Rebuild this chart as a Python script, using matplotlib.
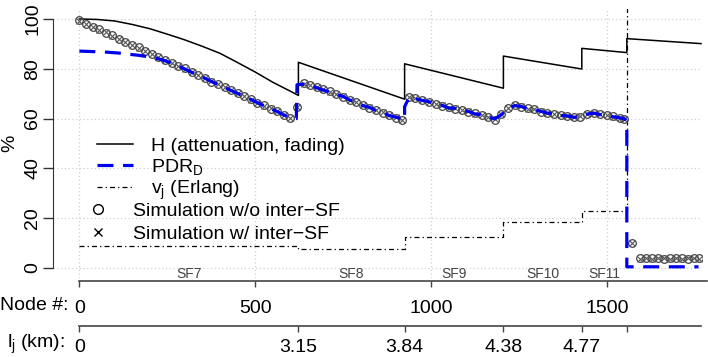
import matplotlib
matplotlib.use("Agg")
import matplotlib.pyplot as plt
from matplotlib.lines import Line2D
from matplotlib.transforms import blended_transform_factory

plt.rcParams["font.family"] = ["Liberation Sans", "DejaVu Sans"]
plt.rcParams["mathtext.fontset"] = "custom"
plt.rcParams["mathtext.rm"] = "Liberation Sans"
plt.rcParams["mathtext.it"] = "Liberation Sans:italic"

# ---- data ----
sf_names = ["SF7", "SF8", "SF9", "SF10", "SF11"]
sf_edges = [0, 623, 925, 1206, 1429, 1557]
lj_labels = ["0", "3.15", "3.84", "4.38", "4.77", ""]
node_ticks = [0, 500, 1000, 1500]

h_nodes = [0, 50, 100, 150, 200, 250, 300, 350, 400, 450, 500, 550, 600, 623,
           623, 925, 925, 1206, 1206, 1429, 1429, 1557, 1557, 1768]
h_vals = [100, 99.8, 99.2, 97.8, 96.1, 93.9, 91.6, 89.0, 86.2, 82.5, 78.7, 74.6, 71.0, 69.3,
          82.6, 67.8, 82.0, 72.2, 85.1, 79.9, 88.2, 86.5, 92.1, 90.1]

erlang_nodes = [0, 623, 925, 1206, 1429, 1557]
erlang_vals = [8.8, 7.6, 12.3, 18.6, 23.0, 1000]

sim_nodes = [0, 19, 38, 56, 75, 94, 113, 131, 150, 169, 188, 206, 225, 244, 263, 281,
             300, 319, 338, 356, 375, 394, 413, 431, 450, 469, 488, 506, 525, 544, 563, 581,
             600, 619,
             638, 656, 675, 694, 713, 731, 750, 769, 788, 806, 825, 844, 863, 881, 900, 919,
             938, 956, 975, 994, 1013, 1031, 1050, 1069, 1088, 1106, 1125, 1144, 1163, 1181,
             1200, 1219,
             1238, 1256, 1275, 1294, 1313, 1331, 1350, 1369, 1388, 1406, 1425,
             1444, 1463, 1481, 1500, 1519, 1538, 1548,
             1571, 1594, 1611, 1628, 1645, 1662, 1679, 1696, 1713, 1730, 1747, 1761]
sim_no_inter = [99.4, 98.0, 96.9, 95.8, 94.5, 93.5, 92.0, 90.9, 89.6, 88.7, 87.2, 86.0, 84.6, 83.5,
                82.3, 81.2, 80.2, 78.7, 77.5, 76.3, 74.7, 73.8, 72.6, 71.4, 70.4, 68.9, 67.7, 66.2,
                65.3, 64.0, 63.0, 61.6, 60.3, 64.8,
                74.2, 73.5, 72.6, 71.8, 70.9, 69.9, 68.8, 67.6, 66.5, 65.4, 64.4, 63.4, 62.4, 61.4,
                60.4, 59.5,
                68.8, 68.2, 67.5, 66.6, 65.9, 65.2, 64.5, 64.0, 63.4, 62.8, 62.1, 61.4, 60.8, 59.6,
                62.0, 64.2,
                65.4, 64.8, 64.1, 63.8, 62.8, 62.4, 61.8, 61.4, 61.0, 60.7, 60.8,
                62.0, 62.1, 61.8, 61.4, 60.9, 60.2, 60.0,
                10.2, 3.9, 3.9, 3.9, 3.9, 3.8, 3.9, 3.9, 3.9, 3.8, 3.9, 3.9]
sim_inter = [99.3, 98.1, 96.8, 95.7, 94.6, 93.3, 92.1, 90.8, 89.7, 88.5, 87.3, 85.9, 84.7, 83.4,
             82.4, 81.1, 80.0, 78.8, 77.4, 76.2, 74.9, 73.7, 72.5, 71.5, 70.2, 69.0, 67.6, 66.4,
             65.2, 64.1, 62.9, 61.5, 60.2, 64.6,
             74.0, 73.6, 72.5, 71.9, 70.8, 69.8, 68.9, 67.5, 66.6, 65.3, 64.5, 63.3, 62.5, 61.3,
             60.5, 59.4,
             68.7, 68.3, 67.4, 66.7, 65.8, 65.3, 64.4, 64.1, 63.3, 62.9, 62.0, 61.5, 60.7, 59.7,
             61.8, 64.3,
             65.3, 64.9, 64.0, 63.7, 62.9, 62.3, 61.9, 61.3, 61.1, 60.6, 60.9,
             61.9, 62.2, 61.7, 61.5, 60.8, 60.3, 59.9,
             10.0, 3.8, 3.9, 3.8, 3.9, 3.9, 3.8, 3.9, 3.8, 3.9, 3.9, 3.8]

pdr_nodes = [0, 19, 38, 56, 75, 94, 113, 131, 150, 169, 188, 206, 225, 244, 263, 281,
             300, 319, 338, 356, 375, 394, 413, 431, 450, 469, 488, 506, 525, 544, 563, 581,
             600, 617, 619,
             638, 656, 675, 694, 713, 731, 750, 769, 788, 806, 825, 844, 863, 881, 900, 919, 925, 925,
             938, 956, 975, 994, 1013, 1031, 1050, 1069, 1088, 1106, 1125, 1144, 1163, 1181,
             1200, 1219,
             1238, 1256, 1275, 1294, 1313, 1331, 1350, 1369, 1388, 1406, 1425,
             1444, 1463, 1481, 1500, 1519, 1538, 1552, 1557,
             1557, 1594, 1628, 1662, 1696, 1730, 1761]
pdr_vals = [87.1, 87.0, 86.9, 86.8, 86.7, 86.5, 86.3, 86.0, 85.7, 85.4, 85.0, 84.6, 84.0, 83.2,
            82.2, 81.1, 79.9, 78.6, 77.4, 76.3, 74.9, 73.7, 72.6, 71.3, 70.1, 68.8, 67.7, 66.4,
            65.2, 64.0, 62.8, 61.5, 60.3, 60.0, 73.6,
            73.8, 73.2, 72.4, 71.4, 70.7, 69.6, 68.9, 67.4, 66.6, 65.2, 64.5, 63.2, 62.5, 61.2,
            60.6, 59.8, 59.5, 64.8,
            68.5, 68.0, 67.3, 66.8, 65.7, 65.3, 64.3, 64.1, 63.2, 62.9, 61.9, 61.5, 60.6, 59.9,
            61.5, 64.0,
            65.2, 64.9, 63.9, 63.6, 62.9, 62.2, 61.9, 61.2, 61.1, 60.5, 60.9,
            61.8, 62.2, 61.6, 61.5, 60.7, 60.3, 59.8, 58.5,
            0.5, 0.5, 0.5, 0.5, 0.5, 0.5, 0.5]

# ---- layout (pixels of a 708x357 canvas) ----
W, H = 708, 357
PXN = 0.3516          # pixels per node
X0 = -75              # node at left edge


def box(x0, y0, x1, y1):
    return [x0 / W, 1 - y1 / H, (x1 - x0) / W, (y1 - y0) / H]


fig = plt.figure(figsize=(W / 100, H / 100), dpi=100)
ax = fig.add_axes(box(53, 9, 702, 278))
ax.set_xlim(X0, X0 + 649 / PXN)
ax.set_ylim(-4, 104)

ax.set_xticks(node_ticks)
ax.tick_params(axis="x", length=0, labelbottom=False)
ax.set_yticks(range(0, 101, 20))
ax.set_yticklabels([str(v) for v in range(0, 101, 20)], rotation=90, va="center", fontsize=14)
ax.tick_params(axis="y", length=7, width=1, pad=1.5, color="#333333")
ax.grid(True, ls=(0, (1, 2)), color="#d0d0d0", lw=0.9)
ax.set_axisbelow(True)
for s in ["top", "right", "bottom"]:
    ax.spines[s].set_visible(False)
ax.spines["left"].set_bounds(0, 100)
ax.spines["left"].set_color("#333333")
ax.set_ylabel("%", fontsize=14, labelpad=4)

ax.plot(h_nodes, h_vals, color="black", lw=1.1)
ax.plot(erlang_nodes, erlang_vals, color="black", lw=0.9, ls=(0, (4, 2.5, 1, 2.5)),
        drawstyle="steps-post")
ax.plot(sim_nodes, sim_no_inter, ls="none", marker="o", ms=5.5, mfc="none", mec="#444444", mew=0.9)
ax.plot(sim_nodes, sim_inter, ls="none", marker="x", ms=4, mec="#555555", mew=0.8)
ax.plot(pdr_nodes, pdr_vals, color="#0000ee", lw=2.3, ls=(0, (5, 3)))

# spreading-factor labels under the plot
trans = blended_transform_factory(ax.transData, ax.transAxes)
for name, a, b in zip(sf_names, sf_edges[:-1], sf_edges[1:]):
    ax.text((a + b) / 2, 0.014, name, transform=trans, ha="center", va="center",
            fontsize=10, color="#444444", clip_on=False)

# legend
leg1 = ax.legend(
    [Line2D([], [], color="black", lw=1.1),
     Line2D([], [], color="#0000ee", lw=2.3, ls=(0, (5, 3))),
     Line2D([], [], color="black", lw=0.9, ls=(0, (4, 2.5, 1, 2.5)))],
    ["H (attenuation, fading)", r"PDR$_\mathrm{D}$", r"v$_\mathrm{j}$ (Erlang)"],
    loc="upper left", bbox_to_anchor=(97 / W, 1 - 137 / H), bbox_transform=fig.transFigure,
    frameon=False, fontsize=14, handlelength=1.85, handletextpad=0.95,
    labelspacing=0.1, borderpad=0, borderaxespad=0)
ax.add_artist(leg1)
ax.legend(
    [Line2D([], [], ls="none", marker="o", ms=7, mfc="none", mec="black", mew=1),
     Line2D([], [], ls="none", marker="x", ms=6, mec="black", mew=1)],
    ["Simulation w/o inter\u2212SF", "Simulation w/ inter\u2212SF"],
    loc="upper left", bbox_to_anchor=(92 / W, 1 - 202 / H), bbox_transform=fig.transFigure,
    frameon=False, fontsize=14, handlelength=0.6, handletextpad=1.5,
    labelspacing=0.3, borderpad=0, borderaxespad=0)


def bottom_axis(y, end_node, ticks, labels, pad):
    a = fig.add_axes(box(53, y - 1, 708, y))
    a.set_xlim(X0, X0 + 655 / PXN)
    a.patch.set_visible(False)
    for s in ["top", "right", "left"]:
        a.spines[s].set_visible(False)
    a.spines["bottom"].set_bounds(0, end_node)
    a.spines["bottom"].set_color("#444444")
    a.spines["bottom"].set_linewidth(1.2)
    a.set_yticks([])
    a.set_xticks(ticks)
    a.set_xticklabels(labels, fontsize=14)
    a.tick_params(axis="x", length=4, width=1, pad=pad, color="#444444")
    return a


bottom_axis(280.5, 1785, node_ticks, [str(v) for v in node_ticks], 10)
bottom_axis(326, 1768, sf_edges, lj_labels, 5)
fig.text(0.5 / W, 1 - 306 / H, "Node #:", ha="left", va="center", fontsize=14)
fig.text(7 / W, 1 - 344 / H, r"l$_\mathrm{j}$ (km):", ha="left", va="center", fontsize=14)

fig.savefig("out.png", dpi=100)
